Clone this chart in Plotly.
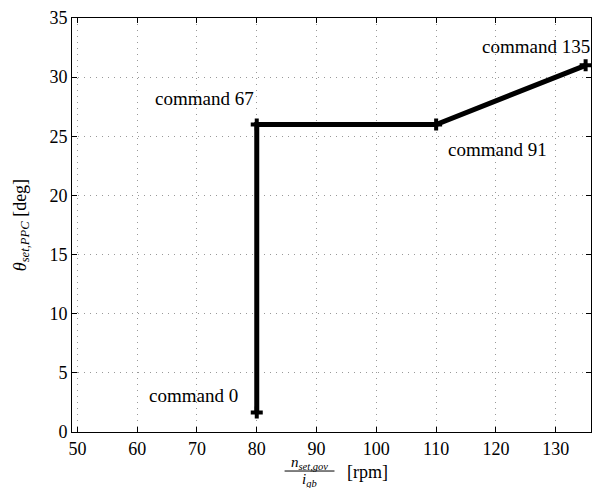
import plotly.graph_objects as go

speed_rpm = [80, 80, 110, 135]
pitch_deg = [1.65, 26, 26, 31]
labels = ["command 0", "command 67", "command 91", "command 135"]
label_dx = [-63, -52, 61, -50]
label_dy = [17, 26, -25, 19]

x_ticks = [50, 60, 70, 80, 90, 100, 110, 120, 130]
y_ticks = [0, 5, 10, 15, 20, 25, 30, 35]

FONT = "Liberation Serif, DejaVu Serif, serif"
FS = 18

fig = go.Figure()
fig.add_trace(go.Scatter(
    x=speed_rpm, y=pitch_deg, mode="lines+markers",
    line=dict(color="black", width=5),
    marker=dict(symbol="cross", size=10, color="black"),
    showlegend=False, hoverinfo="skip"))

for xv, yv, t, dx, dy in zip(speed_rpm, pitch_deg, labels, label_dx, label_dy):
    fig.add_annotation(x=xv, y=yv, text=t, showarrow=False, xshift=dx, yshift=dy,
                       xanchor="center", yanchor="middle",
                       font=dict(family=FONT, size=19, color="black"))

axis_common = dict(showline=True, linecolor="black", linewidth=1, mirror="ticks",
                   ticks="inside", ticklen=5, tickcolor="black",
                   showgrid=True, gridcolor="#999999", griddash="1px,5px", gridwidth=1,
                   zeroline=False, tickfont=dict(family=FONT, size=FS, color="black"))

fig.update_xaxes(range=[49.1, 135.9], tickvals=x_ticks, **axis_common)
fig.update_yaxes(range=[0, 35], tickvals=y_ticks,
                 title=dict(text="<i>θ<sub>set,PPC</sub></i> [deg]", standoff=18,
                            font=dict(family=FONT, size=FS, color="black")),
                 **axis_common)

# x-axis title as a fraction
L, R, T, B = 72, 8, 13, 56
W, H = 600, 488
pw, ph = W - L - R, H - T - B
def px_x(p): return (p - L) / pw
def px_y(p): return (H - B - p) / ph

fig.add_annotation(xref="paper", yref="paper", x=px_x(310), y=px_y(463), text="<i>n<sub>set,gov</sub></i>",
                   xanchor="center", yanchor="middle",
                   showarrow=False, font=dict(family=FONT, size=15, color="black"))
fig.add_annotation(xref="paper", yref="paper", x=px_x(310), y=px_y(481), text="<i>i<sub>gb</sub></i>",
                   xanchor="center", yanchor="middle",
                   showarrow=False, font=dict(family=FONT, size=15, color="black"))
fig.add_shape(type="line", xref="paper", yref="paper", x0=px_x(285), x1=px_x(335),
              y0=px_y(471.5), y1=px_y(471.5), line=dict(color="black", width=1))
fig.add_annotation(xref="paper", yref="paper", x=px_x(368), y=px_y(472), text="[rpm]",
                   xanchor="center", yanchor="middle",
                   showarrow=False, font=dict(family=FONT, size=FS, color="black"))

fig.update_layout(width=W, height=H, margin=dict(l=L, r=R, t=T, b=B),
                  plot_bgcolor="white", paper_bgcolor="white")
fig.write_html("out.html")
